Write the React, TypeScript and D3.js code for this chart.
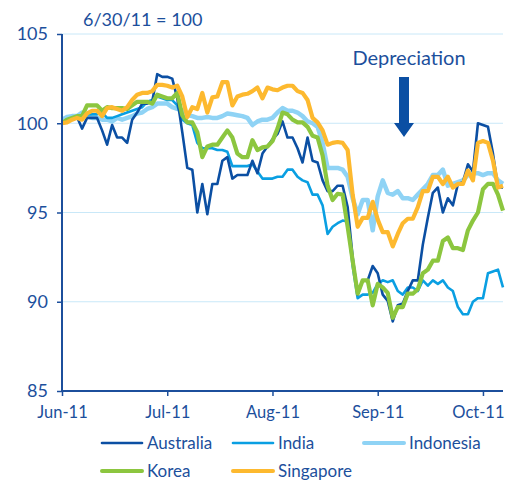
import React, { useEffect, useRef } from 'react';
import * as d3 from 'd3';

// trading days from 6/30/11, indexed to 100
const australia = [
  100.0, 100.2, 100.3, 100.35, 99.7, 100.3, 100.3, 100.3, 99.6, 98.8,
  99.9, 99.2, 99.2, 98.9, 100.2, 100.6, 101.1, 101.1, 101.2, 102.75,
  102.6, 102.6, 102.5, 101.4, 99.5, 97.5, 97.4, 95.0, 96.6, 94.9,
  96.6, 96.6, 97.9, 98.1, 96.9, 97.1, 97.1, 97.1, 97.9, 97.2,
  98.3, 98.7, 99.1, 99.4, 100.1, 99.2, 99.2, 98.6, 97.8, 99.2,
  97.9, 97.8, 96.8, 96.2, 96.2, 96.5, 96.5, 95.3, 92.5, 90.4,
  91.2, 91.2, 92.0, 91.6, 90.4, 90.05, 88.9, 89.8, 89.9, 90.6,
  91.2, 91.2, 93.2, 94.7, 96.1, 96.4, 95.0, 95.8, 95.4, 96.6,
  96.7, 97.7, 97.3, 100.0, 99.9, 99.8, 98.3, 96.4, 96.4,
];
const india = [
  100.0, 100.2, 100.3, 100.4, 100.3, 100.5, 100.5, 100.5, 100.6, 100.3,
  100.3, 100.4, 100.5, 100.6, 100.7, 100.8, 100.9, 101.2, 101.3, 101.5,
  101.4, 101.3, 101.3, 101.0, 100.2, 100.0, 99.9, 98.9, 98.6, 98.6,
  98.6, 98.5, 98.5, 98.4, 97.6, 97.6, 97.6, 97.6, 97.7, 97.3,
  96.9, 96.9, 96.9, 97.0, 97.0, 97.4, 97.4, 97.0, 96.8, 96.7,
  96.0, 96.0, 95.4, 93.8, 94.2, 94.4, 94.55, 94.5, 92.0, 90.2,
  90.4, 90.4, 90.5, 91.0, 91.2, 91.1, 91.2, 90.6, 90.4, 90.8,
  90.8, 90.6, 91.2, 90.9, 91.2, 91.0, 91.2, 90.8, 90.6, 89.7,
  89.3, 89.3, 90.0, 90.2, 90.2, 91.6, 91.7, 91.8, 90.8,
];
const indonesia = [
  100.2, 100.35, 100.4, 100.4, 100.6, 100.4, 100.3, 100.3, 100.2, 100.2,
  100.1, 100.3, 100.2, 100.3, 100.4, 100.55, 100.6, 100.8, 100.9, 101.1,
  101.1, 101.1, 100.9, 100.8, 100.7, 100.45, 100.4, 100.3, 100.3, 100.35,
  100.3, 100.3, 100.4, 100.55, 100.5, 100.45, 100.4, 100.3, 99.9, 100.1,
  100.2, 100.2, 100.3, 100.6, 100.85, 100.7, 100.7, 100.6, 100.4, 100.1,
  100.0, 99.8, 98.9, 97.5, 97.5, 97.5, 97.4, 97.0, 95.8, 94.9,
  95.7, 95.7, 94.0, 95.9, 96.8, 96.1, 96.0, 96.2, 95.8, 95.8,
  95.7, 96.0, 96.3, 96.6, 97.1, 97.1, 97.4, 96.5, 96.6, 96.7,
  96.8, 97.1, 97.2, 97.2, 97.1, 97.2, 97.2, 96.8, 96.6,
];
const korea = [
  100.0, 100.2, 100.3, 100.4, 100.4, 101.0, 101.0, 101.0, 100.7, 100.9,
  100.85, 100.85, 100.85, 100.8, 101.0, 101.2, 101.2, 101.2, 101.1, 101.6,
  101.5, 101.4, 101.4, 101.7, 100.45, 100.05, 100.05, 99.5, 98.1, 98.7,
  98.8, 98.8, 99.2, 99.6, 99.2, 98.3, 98.1, 98.1, 99.05, 98.5,
  98.65, 98.7, 99.0, 99.7, 100.6, 100.5, 100.2, 100.05, 100.05, 99.8,
  99.3, 99.2, 98.2, 96.5, 95.7, 96.05, 96.0, 94.2, 92.3, 90.45,
  91.2, 91.2, 89.8, 91.0, 90.8, 90.5, 89.1, 89.7, 89.7, 90.45,
  90.45, 90.7, 91.6, 91.8, 92.3, 92.3, 93.4, 93.6, 93.0, 93.0,
  92.9, 94.0, 94.55, 95.0, 96.3, 96.6, 96.6, 96.0, 95.1,
];
const singapore = [
  100.0, 100.05, 100.2, 100.3, 100.2, 100.55, 100.7, 100.7, 100.4, 100.85,
  100.9, 100.8, 100.7, 100.9, 101.3, 101.6, 101.7, 101.7, 101.8, 102.15,
  102.15, 102.1, 102.0, 102.1, 101.5, 100.35, 100.9, 100.8, 101.7, 100.6,
  101.45, 101.5, 102.3, 102.3, 101.0, 101.5, 101.6, 101.65, 101.8, 102.0,
  101.4, 102.0, 101.9, 101.85, 102.0, 102.1, 102.1, 101.8, 101.7, 101.3,
  100.3, 100.05, 99.6, 98.8, 98.9, 98.95, 98.9, 98.5, 96.0, 94.2,
  94.7, 94.7, 95.6, 94.6, 93.9, 93.9, 93.1, 93.8, 94.4, 94.65,
  94.65, 95.3, 96.2, 96.2, 97.0, 97.0, 96.6, 97.0, 96.4, 96.6,
  96.6, 97.35, 96.8, 98.9, 99.0, 98.9, 97.9, 96.4, 96.5,
];

const tickIndex = [0, 21, 42, 63, 84];
const tickLabels = ['Jun-11', 'Jul-11', 'Aug-11', 'Sep-11', 'Oct-11'];
const yTicks = [85, 90, 95, 100, 105];

const series = [
  { name: 'Indonesia', values: indonesia, color: '#8fd3f5', width: 4.5 },
  { name: 'India', values: india, color: '#0a9fe2', width: 2.6 },
  { name: 'Australia', values: australia, color: '#0b4fa3', width: 2.6 },
  { name: 'Korea', values: korea, color: '#8cc63f', width: 4.2 },
  { name: 'Singapore', values: singapore, color: '#fdb92f', width: 4.2 },
];

const legendOrder = ['Australia', 'India', 'Indonesia', 'Korea', 'Singapore'];

const TEXT = '#1c4f9c';
const FONT = "Lato, sans-serif";

const App: React.FC = () => {
  const svgRef = useRef<SVGSVGElement>(null);

  useEffect(() => {
    if (!svgRef.current) return;
    const svg = d3.select(svgRef.current);
    svg.selectAll('*').remove();

    const x = d3.scaleLinear().domain([0, australia.length - 1]).range([62, 503]);
    const y = d3.scaleLinear().domain([85, 105]).range([391, 34]);

    // gridlines
    svg.append('g')
      .selectAll('line')
      .data(yTicks.filter(t => t > 85))
      .join('line')
        .attr('x1', 62)
        .attr('x2', 503)
        .attr('y1', d => y(d))
        .attr('y2', d => y(d))
        .attr('stroke', '#c9e8f8')
        .attr('stroke-width', 1);

    const line = d3.line<number>()
      .x((_, i) => x(i))
      .y(d => y(d));

    svg.append('g')
      .selectAll('path')
      .data(series)
      .join('path')
        .attr('d', d => line(d.values))
        .attr('fill', 'none')
        .attr('stroke', d => d.color)
        .attr('stroke-width', d => d.width)
        .attr('stroke-linejoin', 'round');

    // axes
    const yAxis = svg.append('g').attr('transform', 'translate(62,0)');
    yAxis.call(
      d3.axisLeft(y).tickValues(yTicks).tickSize(5).tickPadding(9)
    );
    yAxis.select('.domain').attr('stroke', TEXT).attr('stroke-width', 2).attr('d', `M0,${y(105)}V${y(85)}`);
    yAxis.selectAll('.tick line').attr('stroke', TEXT).attr('stroke-width', 1.5);
    yAxis.selectAll('.tick text')
      .attr('fill', TEXT)
      .style('font', `18px ${FONT}`);

    const xAxis = svg.append('g').attr('transform', `translate(0,${y(85)})`);
    xAxis.call(
      d3.axisBottom(x)
        .tickValues(tickIndex)
        .tickFormat((_, i) => tickLabels[i])
        .tickSize(5)
        .tickPadding(10)
    );
    xAxis.select('.domain').attr('stroke', TEXT).attr('stroke-width', 2).attr('d', `M${x(0)},0H${x(australia.length - 1)}`);
    xAxis.selectAll('.tick line').attr('stroke', TEXT).attr('stroke-width', 1.5);
    xAxis.selectAll('.tick text')
      .attr('fill', TEXT)
      .style('font', `16.5px ${FONT}`);
    // keep last label inside the frame
    xAxis.selectAll<SVGTextElement, number>('.tick text')
      .filter(d => d === tickIndex[tickIndex.length - 1])
      .attr('text-anchor', 'end')
      .attr('x', 504 - x(tickIndex[tickIndex.length - 1]));

    // subtitle
    svg.append('text')
      .attr('x', 83)
      .attr('y', 26)
      .attr('fill', TEXT)
      .style('font', `18px ${FONT}`)
      .text('6/30/11 = 100');

    // annotation
    svg.append('text')
      .attr('x', 409)
      .attr('y', 65)
      .attr('text-anchor', 'middle')
      .attr('fill', TEXT)
      .style('font', `20px ${FONT}`)
      .text('Depreciation');
    svg.append('path')
      .attr('d', 'M399,77H409V123H414L404,137L394,123H399Z')
      .attr('fill', '#0b4fa3');

    // legend
    const legendPos = [
      { x: 102, y: 443 },
      { x: 233, y: 443 },
      { x: 364, y: 443 },
      { x: 102, y: 471 },
      { x: 233, y: 471 },
    ];
    const legend = svg.append('g')
      .selectAll('g')
      .data(legendOrder.map(n => series.find(s => s.name === n)!))
      .join('g')
        .attr('transform', (_, i) => `translate(${legendPos[i].x},${legendPos[i].y})`);
    legend.append('line')
      .attr('x1', 0)
      .attr('x2', 40)
      .attr('stroke', d => d.color)
      .attr('stroke-width', d => Math.min(d.width, 4))
      .attr('stroke-linecap', 'round');
    legend.append('text')
      .attr('x', 45)
      .attr('y', 6)
      .attr('fill', TEXT)
      .style('font', `17px ${FONT}`)
      .text(d => d.name);
  }, []);

  return (
    <svg
      ref={svgRef}
      width={505}
      height={485}
      style={{ position: 'absolute', left: 0, top: 0, background: '#fff' }}
    />
  );
};

export default App;
